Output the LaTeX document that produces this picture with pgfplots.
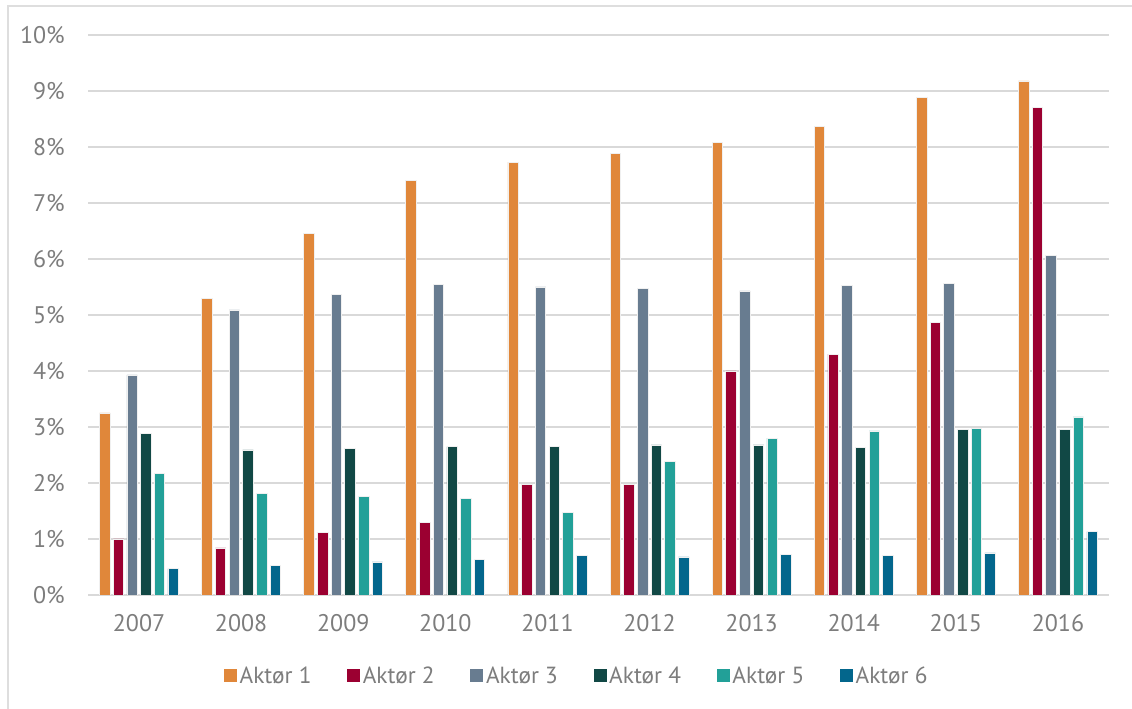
\documentclass[border=0pt]{standalone}
\usepackage{fontspec}
\setmainfont{PT Sans}
\usepackage{pgfplots}
\pgfplotsset{compat=1.18}

\definecolor{aktA}{RGB}{224,135,58}
\definecolor{aktB}{RGB}{155,0,49}
\definecolor{aktC}{RGB}{104,124,144}
\definecolor{aktD}{RGB}{17,72,69}
\definecolor{aktE}{RGB}{34,160,152}
\definecolor{aktF}{RGB}{3,102,140}
\definecolor{txtgray}{RGB}{125,125,125}
\definecolor{gridgray}{RGB}{217,217,217}
\definecolor{framegray}{RGB}{222,222,222}

\newlength\px
\setlength\px{0.75pt}

\begin{document}
\begin{tikzpicture}
% canvas and outer frame
\path[use as bounding box] (0,0) rectangle (1132\px,709\px);
\draw[framegray, line width=2\px] (8\px,0) -- (8\px,703\px) -- (1132\px,703\px);

\begin{axis}[
  at={(88\px,114\px)}, anchor=south west,
  scale only axis,
  width=1021\px, height=560\px,
  xmin=-0.5, xmax=9.5,
  ymin=0, ymax=10,
  ytick={0,1,...,10},
  yticklabel={\pgfmathprintnumber{\tick}\%},
  xtick={0,...,9},
  xticklabels={2007,2008,2009,2010,2011,2012,2013,2014,2015,2016},
  major tick length=0pt,
  axis line style={draw=none},
  ymajorgrids,
  grid style={gridgray, line width=2\px},
  tick label style={font=\fontsize{18}{20}\selectfont, text=txtgray},
  /pgf/number format/assume math mode=true,
  yticklabel style={anchor=east, inner sep=0pt, xshift=-23\px},
  xticklabel style={anchor=center, inner sep=0pt, yshift=-28\px},
  ybar,
  bar width=0.103,
  every axis plot/.append style={draw=white!88!gray, line width=0.8\px},
  legend columns=6,
  legend style={at={(0.479,-0.1446)}, anchor=center, draw=none,
    font=\fontsize{17.5}{19}\selectfont, text=txtgray,
    /tikz/every even column/.append style={column sep=33\px}},
  legend image code/.code={\fill[#1, draw=none] (0,-6.5\px) rectangle (13\px,6.5\px);},
]
\addplot[fill=aktA, bar shift=-0.335] coordinates {
 (0,3.25) (1,5.29) (2,6.45) (3,7.41) (4,7.73) (5,7.88) (6,8.08) (7,8.36) (8,8.88) (9,9.18)};
\addplot[fill=aktB, bar shift=-0.201] coordinates {
 (0,1.00) (1,0.84) (2,1.11) (3,1.29) (4,1.98) (5,1.98) (6,4.00) (7,4.30) (8,4.86) (9,8.70)};
\addplot[fill=aktC, bar shift=-0.067] coordinates {
 (0,3.93) (1,5.09) (2,5.37) (3,5.55) (4,5.50) (5,5.48) (6,5.43) (7,5.53) (8,5.56) (9,6.07)};
\addplot[fill=aktD, bar shift=0.067] coordinates {
 (0,2.88) (1,2.59) (2,2.61) (3,2.65) (4,2.65) (5,2.68) (6,2.68) (7,2.64) (8,2.96) (9,2.95)};
\addplot[fill=aktE, bar shift=0.201] coordinates {
 (0,2.17) (1,1.82) (2,1.76) (3,1.73) (4,1.47) (5,2.38) (6,2.80) (7,2.93) (8,2.98) (9,3.18)};
\addplot[fill=aktF, bar shift=0.335] coordinates {
 (0,0.47) (1,0.53) (2,0.59) (3,0.64) (4,0.70) (5,0.68) (6,0.73) (7,0.71) (8,0.75) (9,1.13)};
\legend{Aktør 1, Aktør 2, Aktør 3, Aktør 4, Aktør 5, Aktør 6}
\end{axis}
\end{tikzpicture}
\end{document}
